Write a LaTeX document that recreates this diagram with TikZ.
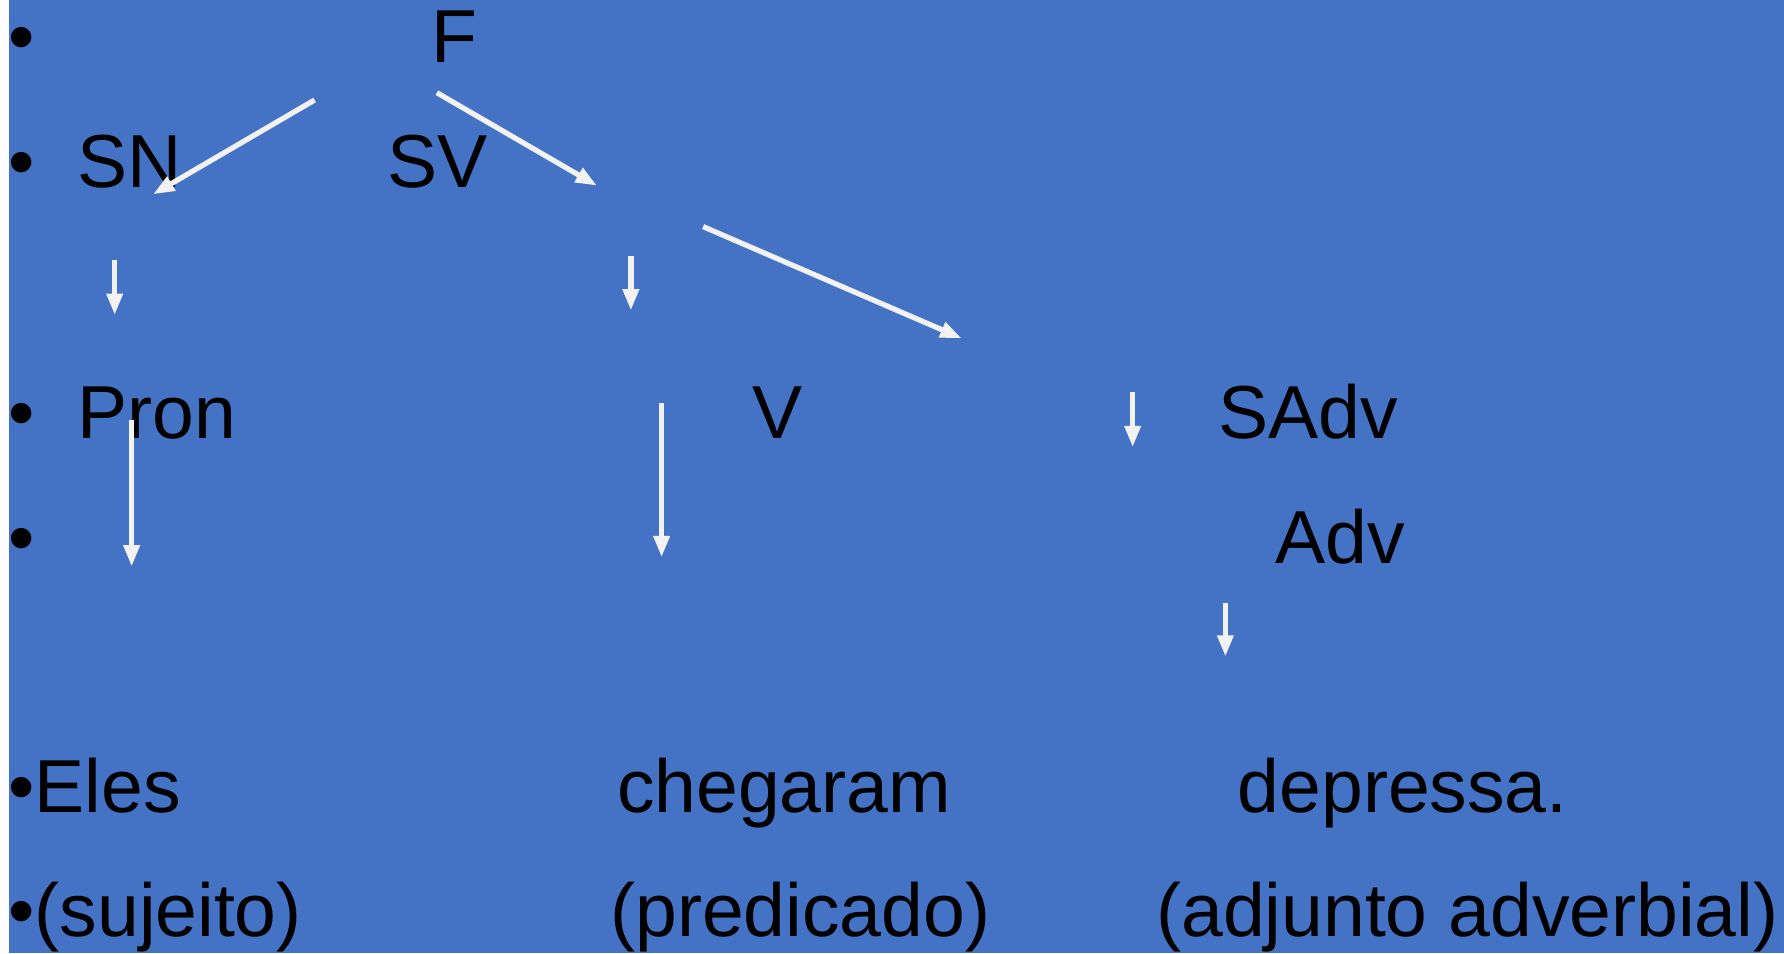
\documentclass[tikz,border=0pt]{standalone}
\usepackage{fontspec}
\setmainfont{Liberation Sans}
\usetikzlibrary{arrows.meta}
\definecolor{slideblue}{RGB}{68,114,196}
\definecolor{arrowwhite}{RGB}{242,242,242}
\tikzset{
  lbl/.style={anchor=base west, inner sep=0pt, text=black, font=\fontsize{33pt}{40pt}\selectfont},
  arr/.style={draw=arrowwhite, line width=2.3pt, -{Triangle[length=9.4pt,width=6.8pt]}}
}
\begin{document}
\begin{tikzpicture}[x=0.5pt,y=0.5pt,yscale=-1,xscale=1]
\useasboundingbox (0,0) rectangle (1568,838);
\fill[white] (0,0) rectangle (1568,838);
\fill[slideblue] (8,0) rectangle (1568,838);

% Text Node
\node[lbl] (b1) at (7,55) {•};
\node[lbl] (F) at (378.5,55) {F};
\node[lbl] (b2) at (7,165) {•};
\node[lbl] (SN) at (67.5,165) {SN};
\node[lbl] (SV) at (340,165) {SV};
\node[lbl] (b3) at (7,385) {•};
\node[lbl] (Pron) at (67.5,385) {Pron};
\node[lbl] (V) at (661,385) {V};
\node[lbl] (SAdv) at (1070.5,385) {SAdv};
\node[lbl] (b4) at (7,495) {•};
\node[lbl] (Adv) at (1121,495) {Adv};
% Text Node
\node[lbl] (Eles) at (7,714) {•Eles};
\node[lbl] (chegaram) at (542,714) {chegaram};
\node[lbl] (depressa) at (1087.5,714) {depressa.};
\node[lbl] (sujeito) at (7,823) {•(sujeito)};
\node[lbl] (predicado) at (536,823) {(predicado)};
\node[lbl] (adjunto) at (1016,823) {(adjunto adverbial)};

%Straight Lines
\coordinate (a1s) at (276.5,87.9);  \coordinate (a1e) at (134.5,170.8);
\coordinate (a2s) at (384,81.5);    \coordinate (a2e) at (524.7,163.2);
\coordinate (a3s) at (618,199.2);   \coordinate (a3e) at (845.2,297.3);
\coordinate (d1s) at (100.8,228.5); \coordinate (d1e) at (100.8,276.9);
\coordinate (d2s) at (554.5,225);   \coordinate (d2e) at (554.5,273);
\coordinate (d3s) at (115.7,369);   \coordinate (d3e) at (115.7,498);
\coordinate (d4s) at (581.5,354);   \coordinate (d4e) at (581.5,489.8);
\coordinate (d5s) at (995.5,344.8); \coordinate (d5e) at (995.5,393.1);
\coordinate (d6s) at (1077,529.7);  \coordinate (d6e) at (1077,577.2);

\draw[arr] (a1s) -- (a1e);
\draw[arr] (a2s) -- (a2e);
\draw[arr] (a3s) -- (a3e);
\draw[arr] (d1s) -- (d1e);
\draw[arr] (d2s) -- (d2e);
\draw[arr] (d3s) -- (d3e);
\draw[arr] (d4s) -- (d4e);
\draw[arr] (d5s) -- (d5e);
\draw[arr] (d6s) -- (d6e);
\end{tikzpicture}
\end{document}
